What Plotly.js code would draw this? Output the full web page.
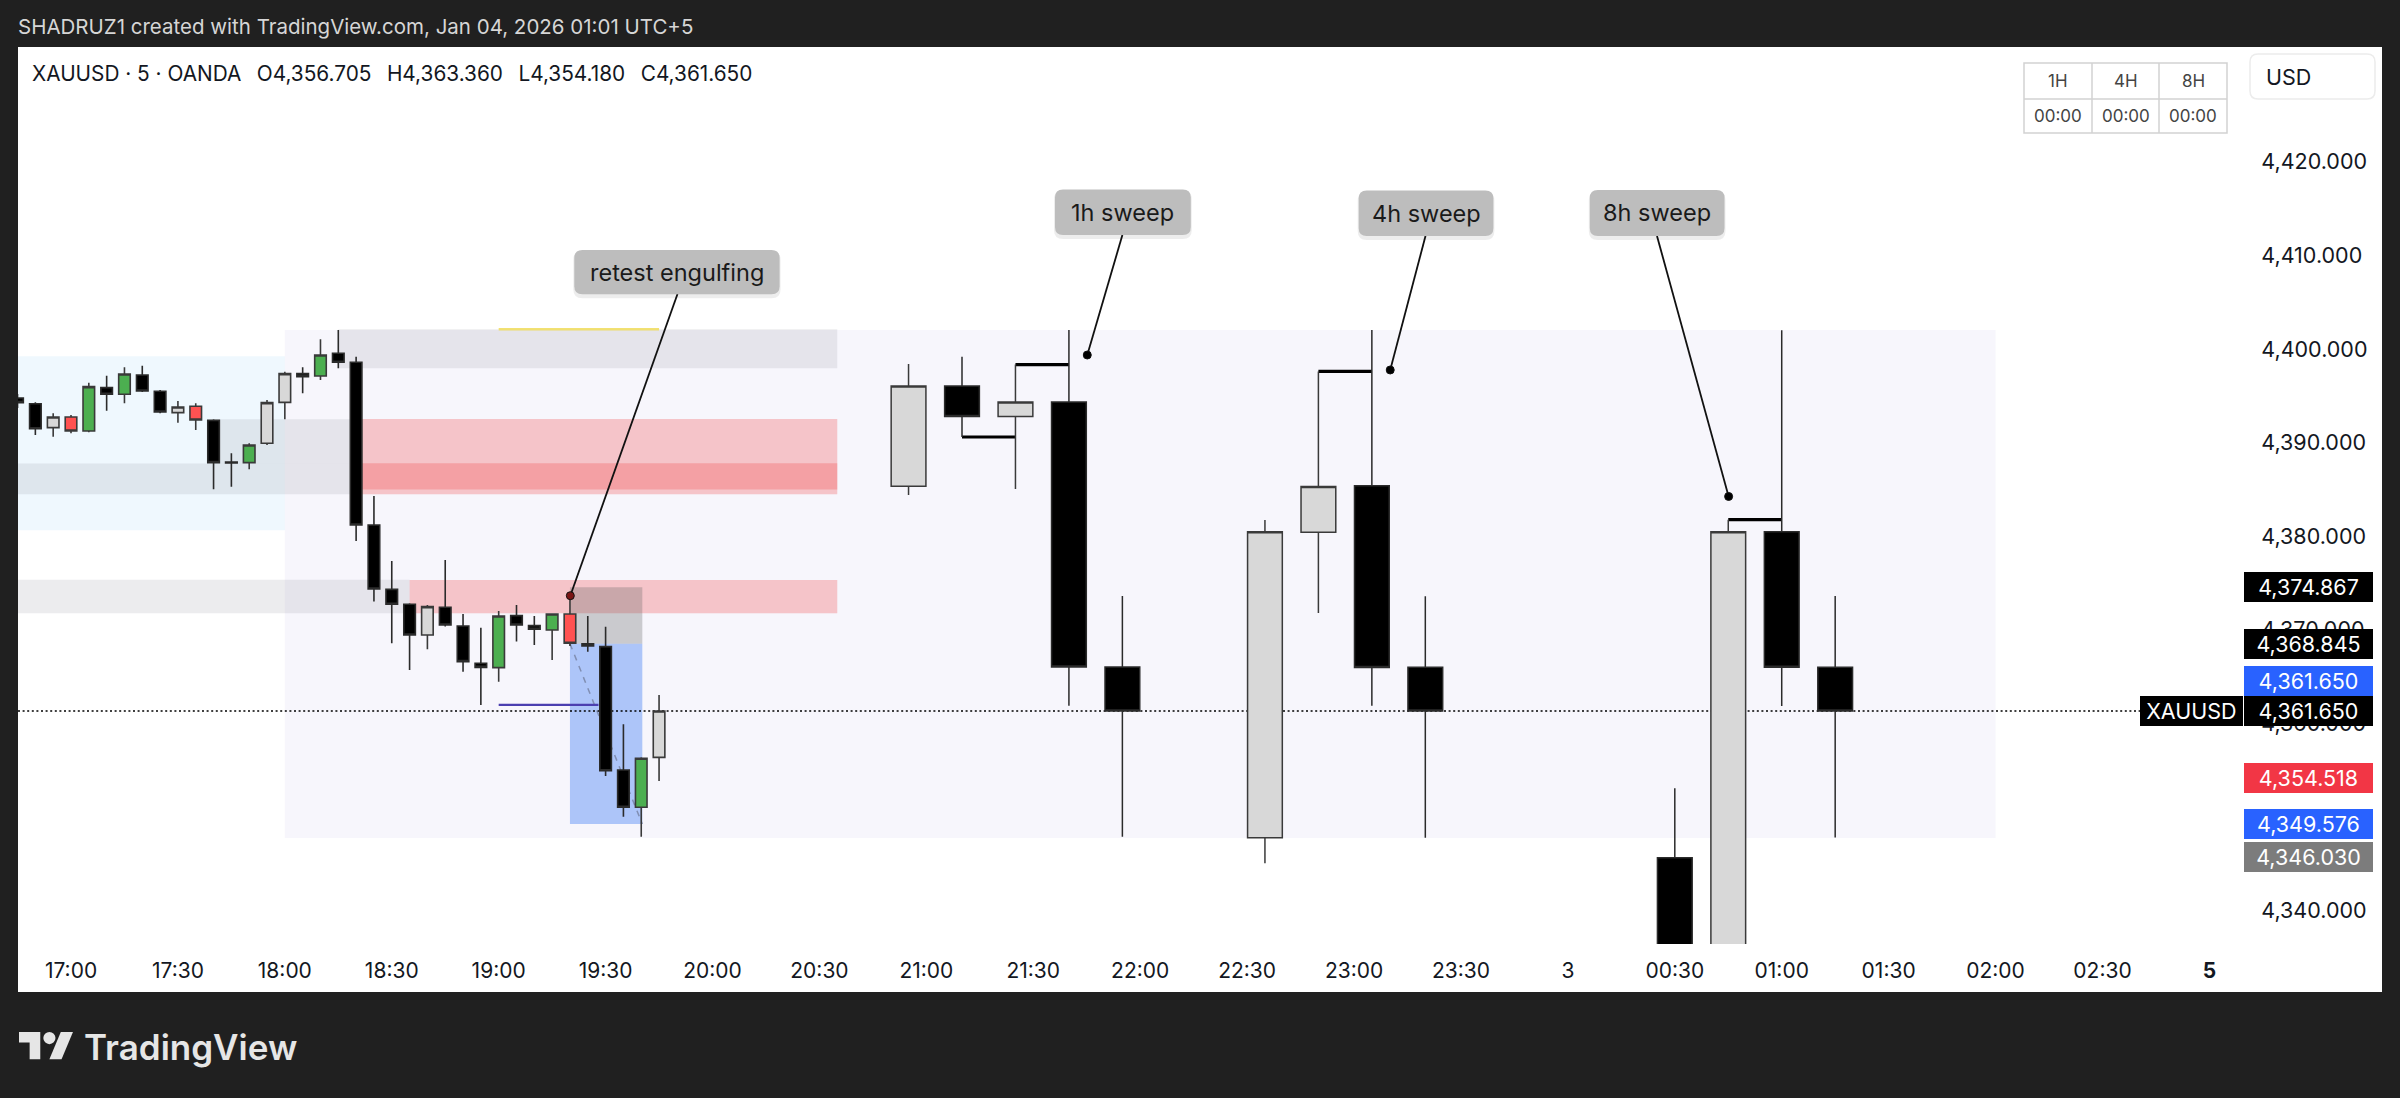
<!DOCTYPE html>
<html><head><meta charset="utf-8">
<script src="https://cdn.plot.ly/plotly-3.0.1.min.js"></script>
<style>html,body{margin:0;padding:0;background:#202020;}#chart{width:2400px;height:1098px;}</style>
</head><body><div id="chart"></div>
<script>
// ================= DATA =================
// 5-minute candles (bar index: 0 = 17:00, one unit = 5 minutes)
const m5_idx = [-3,-2,-1,0,1,2,3,4,5,6,7,8,9,10,11,12,13,14,15,16,17,18,19,20,21,22,23,24,25,26,27,28,29,30,31,32,33];
const m5_open = [4395.09,4394.48,4391.92,4393.06,4391.56,4396.19,4395.48,4397.54,4395.80,4393.52,4394.20,4392.70,4388.25,4388.18,4390.25,4394.62,4397.69,4397.44,4399.86,4398.90,4381.52,4374.65,4373.05,4369.78,4372.73,4370.74,4366.75,4366.29,4371.84,4370.77,4370.31,4372.02,4368.82,4368.53,4355.36,4351.37,4356.705];
const m5_high = [4395.52,4394.62,4393.45,4393.27,4396.72,4397.47,4398.36,4398.54,4395.94,4394.77,4394.52,4392.81,4389.18,4390.25,4394.87,4397.90,4398.36,4401.35,4402.35,4399.50,4384.62,4377.68,4373.16,4372.98,4377.79,4372.02,4370.56,4372.34,4372.98,4371.81,4372.09,4374.05,4371.80,4370.66,4360.24,4356.72,4363.36];
const m5_low = [4394.02,4391.14,4390.96,4391.31,4391.42,4393.73,4394.52,4395.72,4393.45,4392.45,4391.67,4385.33,4385.62,4387.47,4390.07,4392.81,4395.59,4397.02,4398.26,4379.82,4373.34,4368.89,4366.04,4368.25,4370.67,4365.86,4362.30,4364.79,4369.07,4368.71,4367.11,4368.60,4367.99,4354.72,4350.37,4348.22,4354.18];
const m5_close = [4394.59,4391.81,4393.06,4391.56,4396.30,4395.48,4397.65,4395.83,4393.59,4394.13,4392.74,4388.18,4388.14,4390.07,4394.59,4397.69,4397.37,4399.68,4398.90,4381.52,4374.69,4373.05,4369.78,4372.80,4370.84,4366.93,4366.32,4371.81,4370.84,4370.38,4372.02,4368.89,4368.60,4355.28,4351.37,4356.61,4361.65];
const m5_kind = ['down','down','up','downHi','upHi','down','upHi','down','down','up','downHi','down','down','upHi','up','up','down','upHi','down','down','down','down','down','up','down','down','down','upHi','down','down','upHi','downHi','down','down','down','upHi','up'];

// Higher-timeframe candles (1H, 4H, 8H groups) drawn in the future area
const htf_idx = [47,50,53,56,59,67,70,73,76,90,93,96,99];
const htf_open = [4385.65,4396.37,4393.12,4394.66,4366.36,4348.12,4380.75,4385.72,4366.32,4345.99,4331.00,4380.79,4366.32];
const htf_high = [4398.72,4399.49,4398.66,4402.35,4373.94,4382.06,4397.93,4402.35,4373.92,4353.40,4382.09,4402.32,4373.95];
const htf_low = [4384.72,4390.92,4385.37,4362.22,4348.22,4345.39,4372.12,4362.22,4348.12,4327.50,4329.00,4362.18,4348.15];
const htf_close = [4396.37,4393.12,4394.66,4366.36,4361.65,4380.81,4385.64,4366.30,4361.65,4331.00,4380.79,4366.32,4361.65];
const htf_kind = ['up','down','up','down','down','up','up','down','down','down','up','down','down'];

// Sweep levels (from bar, to bar, price)
const sweep_k0 = [50,53,70,93];
const sweep_k1 = [53,56,73,96];
const sweep_level = [4390.92,4398.66,4397.93,4382.09];

// Notes
const note_text = ['retest engulfing','1h sweep','4h sweep','8h sweep'];
const note_k = [28.02,57.03,74.03,93.02];
const note_price = [4373.97,4399.68,4398.08,4384.57];

// Zones: x from/to (bar index), price from/to, kind
const zone_k0 = [12,-10,15,8,-10,-10,16,16,19];
const zone_k1 = [108,12,43,16,16,19,43,43,43];
const zone_p0 = [4348.09,4380.97,4398.26,4388.10,4384.80,4372.09,4384.80,4385.32,4372.09];
const zone_p1 = [4402.35,4399.55,4402.42,4392.81,4388.10,4375.67,4392.84,4388.11,4375.65];
const zone_kind = ['session','range','block','block','block','block','supply','supply','supply'];

// Short position tool
const pos_k0 = 28, pos_k1 = 32.06;
const pos_entry = 4368.845, pos_stop = 4374.867, pos_target = 4349.576;

// Horizontal level lines
const level_k0 = [24,24];
const level_k1 = [29.6,33];
const level_price = [4362.30,4402.42];
const level_kind = ['liquidity','high'];

// Price scale
const last_price = 4361.65;
const price_ticks = [4340,4360,4370,4380,4390,4400,4410,4420];
const price_label_values = [4374.867,4368.845,4361.650,4361.650,4354.518,4349.576,4346.030];
const price_label_kind = ['black','black','blue','last','red','blue','gray'];

// Time axis
const time_tick_idx = [0,6,12,18,24,30,36,42,48,54,60,66,72,78,84,90,96,102,108,114,120];
const time_tick_text = ['17:00','17:30','18:00','18:30','19:00','19:30','20:00','20:30','21:00','21:30','22:00','22:30','23:00','23:30','3','00:30','01:00','01:30','02:00','02:30','5'];

// Table
const table_head = ['1H','4H','8H'];
const table_row = ['00:00','00:00','00:00'];

// ================= LAYOUT / STYLE =================
const FONT = 'Inter, "Noto Sans", sans-serif';
const TXT = '#131722';
const PLOT = {l:18, t:47, w:2222, h:897};
const XR = [-2.9742, 121.717], YR = [4336.769, 4432.577];
const kOf = px => XR[0] + (px - PLOT.l) / PLOT.w * (XR[1] - XR[0]);
const pOf = py => YR[1] - (py - PLOT.t) / PLOT.h * (YR[1] - YR[0]);
const PX = px => (px - PLOT.l) / PLOT.w;
const PY = py => (PLOT.t + PLOT.h - py) / PLOT.h;
const fmt3 = v => v.toLocaleString('en-US', {minimumFractionDigits:3, maximumFractionDigits:3});

const KIND_STYLE = {
  up: {fill:'#d8d8d8', line:'#3a3a3a'},
  down: {fill:'#000000', line:'#2b2b2b'},
  upHi: {fill:'#4caf50', line:'#3a3a3a'},
  downHi: {fill:'#ff5252', line:'#3a3a3a'}
};
const ZONE_FILL = {
  session: 'rgba(120,100,200,0.06)',
  range: 'rgba(33,150,243,0.07)',
  block: 'rgba(128,128,140,0.15)',
  supply: 'rgba(240,70,70,0.28)'
};
const LEVEL_STYLE = {
  liquidity: {color:'#4b3fb0', width:2.2},
  high: {color:'rgba(240,220,90,0.85)', width:2.5}
};
const LABEL_BG = {black:'#000000', last:'#000000', blue:'#2962ff', red:'#f23645', gray:'#7c7c7c'};

function candleTraces(idx, o, h, l, c, kind, xaxis, lw) {
  const out = [];
  Object.keys(KIND_STYLE).forEach(kd => {
    const sel = idx.map((_, i) => i).filter(i => kind[i] === kd);
    if (!sel.length) return;
    const st = KIND_STYLE[kd];
    out.push({
      type:'candlestick', xaxis:xaxis, yaxis:'y',
      x: sel.map(i => idx[i]), open: sel.map(i => o[i]), high: sel.map(i => h[i]),
      low: sel.map(i => l[i]), close: sel.map(i => c[i]),
      increasing:{fillcolor:st.fill, line:{color:st.line, width:lw}},
      decreasing:{fillcolor:st.fill, line:{color:st.line, width:lw}},
      whiskerwidth:0, hoverinfo:'skip', showlegend:false
    });
  });
  return out;
}

const traces = [];
candleTraces(m5_idx, m5_open, m5_high, m5_low, m5_close, m5_kind, 'x', 1.6).forEach(t => traces.push(t));
candleTraces(htf_idx, htf_open, htf_high, htf_low, htf_close, htf_kind, 'x2', 1.5).forEach(t => traces.push(t));

// sweep lines
const sx = [], sy = [];
sweep_k0.forEach((k, i) => { sx.push(k, sweep_k1[i], null); sy.push(sweep_level[i], sweep_level[i], null); });
traces.push({type:'scatter', mode:'lines', x:sx, y:sy, line:{color:'#000', width:3.2}, hoverinfo:'skip', showlegend:false});

// note boxes (pixel geometry of the callouts)
const NOTE_BOX = [
  {x0:574.3, x1:779.6, y0:250, y1:294.3, tx:677.5, ty:294},
  {x0:1055, x1:1190.8, y0:189.6, y1:235, tx:1122.4, ty:235},
  {x0:1358.7, x1:1493.4, y0:190.4, y1:236, tx:1425.5, ty:236},
  {x0:1589.8, x1:1724.5, y0:190, y1:236, tx:1657, ty:236}
];
const NOTE_DOT = ['#7a1414','#000','#000','#000'];

// leader lines
const lx = [], ly = [];
note_k.forEach((k, i) => { lx.push(kOf(NOTE_BOX[i].tx), k, null); ly.push(pOf(NOTE_BOX[i].ty), note_price[i], null); });
traces.push({type:'scatter', mode:'lines', x:lx, y:ly, line:{color:'#111', width:1.8}, hoverinfo:'skip', showlegend:false});
traces.push({type:'scatter', mode:'markers', x:note_k, y:note_price,
  marker:{size:8, color:NOTE_DOT, line:{color:'#111', width:1}}, hoverinfo:'skip', showlegend:false});

// ---- shapes ----
const shapes = [];
shapes.push({type:'rect', xref:'paper', yref:'paper', x0:PX(18), x1:PX(2382), y0:PY(992), y1:PY(47),
  fillcolor:'#ffffff', line:{width:0}, layer:'below'});
zone_k0.forEach((k, i) => shapes.push({type:'rect', xref:'x', yref:'y', x0:k, x1:zone_k1[i], y0:zone_p0[i], y1:zone_p1[i],
  fillcolor:ZONE_FILL[zone_kind[i]], line:{width:0}, layer:'below'}));
shapes.push({type:'rect', xref:'x', yref:'y', x0:pos_k0, x1:pos_k1, y0:pos_entry, y1:pos_stop,
  fillcolor:'rgba(100,100,100,0.30)', line:{width:0}, layer:'below'});
shapes.push({type:'rect', xref:'x', yref:'y', x0:pos_k0, x1:pos_k1, y0:pos_target, y1:pos_entry,
  fillcolor:'rgba(41,110,245,0.36)', line:{width:0}, layer:'below'});
shapes.push({type:'line', xref:'x', yref:'y', x0:pos_k0, x1:pos_k1, y0:pos_entry, y1:pos_target,
  line:{color:'rgba(110,120,150,0.7)', width:1.5, dash:'6px,6px'}, layer:'below'});
level_k0.forEach((k, i) => shapes.push({type:'line', xref:'x', yref:'y', x0:k, x1:level_k1[i], y0:level_price[i], y1:level_price[i],
  line:{color:LEVEL_STYLE[level_kind[i]].color, width:LEVEL_STYLE[level_kind[i]].width}, layer:'below'}));
shapes.push({type:'line', xref:'x', yref:'y', x0:XR[0], x1:kOf(2140), y0:last_price, y1:last_price,
  line:{color:'#000', width:1.5, dash:'2px,2.6px'}, layer:'below'});

function rr(x0, y0, x1, y1, r) {
  const X = PX, Y = PY;
  return `M${X(x0+r)},${Y(y0)} L${X(x1-r)},${Y(y0)} Q${X(x1)},${Y(y0)} ${X(x1)},${Y(y0+r)} L${X(x1)},${Y(y1-r)} Q${X(x1)},${Y(y1)} ${X(x1-r)},${Y(y1)} L${X(x0+r)},${Y(y1)} Q${X(x0)},${Y(y1)} ${X(x0)},${Y(y1-r)} L${X(x0)},${Y(y0+r)} Q${X(x0)},${Y(y0)} ${X(x0+r)},${Y(y0)} Z`;
}
NOTE_BOX.forEach(b => {
  shapes.push({type:'path', xref:'paper', yref:'paper', path:rr(b.x0-1, b.y0+1, b.x1+1, b.y1+4, 9),
    fillcolor:'rgba(0,0,0,0.07)', line:{width:0}, layer:'above'});
  shapes.push({type:'path', xref:'paper', yref:'paper', path:rr(b.x0, b.y0, b.x1, b.y1, 8),
    fillcolor:'#bdbdbd', line:{width:0}, layer:'above'});
});
const TB = {x0:2024, x1:2227, y0:63, ym:99, y1:133, c1:2092, c2:2159};
shapes.push({type:'rect', xref:'paper', yref:'paper', x0:PX(TB.x0), x1:PX(TB.x1), y0:PY(TB.y1), y1:PY(TB.y0),
  fillcolor:'#ffffff', line:{color:'#d2d2d2', width:1.5}, layer:'above'});
[TB.c1, TB.c2].forEach(cx => shapes.push({type:'line', xref:'paper', yref:'paper', x0:PX(cx), x1:PX(cx), y0:PY(TB.y1), y1:PY(TB.y0),
  line:{color:'#d2d2d2', width:1.5}, layer:'above'}));
shapes.push({type:'line', xref:'paper', yref:'paper', x0:PX(TB.x0), x1:PX(TB.x1), y0:PY(TB.ym), y1:PY(TB.ym),
  line:{color:'#d2d2d2', width:1.5}, layer:'above'});
shapes.push({type:'path', xref:'paper', yref:'paper', path:rr(2250, 54, 2375, 99, 8),
  fillcolor:'#ffffff', line:{color:'#ececec', width:1.5}, layer:'above'});
const LG = {x:19, y:1025.9, s:1.52};
const lp = (X, Y) => `${PX(LG.x + LG.s*X)},${PY(LG.y + LG.s*Y)}`;
shapes.push({type:'path', xref:'paper', yref:'paper', path:`M${lp(14,22)} L${lp(7,22)} L${lp(7,11)} L${lp(0,11)} L${lp(0,4)} L${lp(14,4)} Z`,
  fillcolor:'#e6e6e6', line:{width:0}, layer:'above'});
shapes.push({type:'path', xref:'paper', yref:'paper', path:`M${lp(28,22)} L${lp(20,22)} L${lp(27.5,4)} L${lp(35.5,4)} Z`,
  fillcolor:'#e6e6e6', line:{width:0}, layer:'above'});
shapes.push({type:'circle', xref:'paper', yref:'paper', x0:PX(LG.x+LG.s*16), x1:PX(LG.x+LG.s*24), y0:PY(LG.y+LG.s*12), y1:PY(LG.y+LG.s*4),
  fillcolor:'#e6e6e6', line:{width:0}, layer:'above'});

// ---- annotations ----
const ann = [];
const last = m5_idx.length - 1;
const S = '\u00a0\u00a0\u2009';
ann.push({xref:'paper', yref:'paper', x:0, y:1, xanchor:'left', yanchor:'middle', xshift:-2, yshift:21, showarrow:false,
  text:'SHADRUZ1 created with TradingView.com, Jan 04, 2026 01:01 UTC+5', font:{family:FONT, size:20.5, color:'#d6d6d6'}});
ann.push({xref:'paper', yref:'paper', x:0, y:1, xanchor:'left', yanchor:'middle', xshift:12, yshift:-26, showarrow:false,
  text:`XAUUSD · 5 · OANDA${S}O${fmt3(m5_open[last])}${S}H${fmt3(m5_high[last])}${S}L${fmt3(m5_low[last])}${S}C${fmt3(m5_close[last])}`,
  font:{family:FONT, size:20.8, color:TXT}});
NOTE_BOX.forEach((b, i) => ann.push({xref:'paper', yref:'paper', x:PX((b.x0+b.x1)/2), y:PY((b.y0+b.y1)/2),
  xanchor:'center', yanchor:'middle', showarrow:false, text:note_text[i], font:{family:FONT, size:23.5, color:'#1a1a1a'}}));
const colC = [(TB.x0+TB.c1)/2, (TB.c1+TB.c2)/2, (TB.c2+TB.x1)/2];
table_head.forEach((t, i) => {
  ann.push({xref:'paper', yref:'paper', x:PX(colC[i]), y:PY((TB.y0+TB.ym)/2), xanchor:'center', yanchor:'middle', showarrow:false,
    text:t, font:{family:FONT, size:17, color:'#444'}});
  ann.push({xref:'paper', yref:'paper', x:PX(colC[i]), y:PY((TB.ym+TB.y1)/2), xanchor:'center', yanchor:'middle', showarrow:false,
    text:table_row[i], font:{family:FONT, size:17, color:'#444'}});
});
ann.push({xref:'paper', yref:'paper', x:PX(2264), y:PY(77), xanchor:'left', yanchor:'middle', showarrow:false,
  text:'USD', font:{family:FONT, size:21.5, color:TXT}});
price_label_values.forEach((v, i) => {
  const kd = price_label_kind[i];
  ann.push({xref:'paper', yref:'y', x:1, y:v, xanchor:'left', yanchor:'middle', xshift:4,
    yshift: (kd === 'blue' && Math.abs(v - last_price) < 0.01) ? 30 : 0,
    showarrow:false, text:fmt3(v), bgcolor:LABEL_BG[kd], borderpad:0, borderwidth:0, width:129, height:30,
    align:'center', valign:'middle', font:{family:FONT, size:21.5, color:'#ffffff'}});
});
ann.push({xref:'paper', yref:'y', x:1, y:last_price, xanchor:'right', yanchor:'middle', xshift:2.7,
  showarrow:false, text:'XAUUSD', bgcolor:'#000000', borderpad:0, borderwidth:0, width:102.7, height:30,
  align:'center', valign:'middle', font:{family:FONT, size:21.5, color:'#ffffff'}});
ann.push({xref:'paper', yref:'paper', x:PX(82), y:PY(1047), xanchor:'left', yanchor:'middle', showarrow:false,
  text:'TradingView', font:{family:FONT, size:35, color:'#e6e6e6', weight:600}});

const layout = {
  width:2400, height:1098,
  margin:{l:PLOT.l, r:2400-PLOT.l-PLOT.w, t:PLOT.t, b:1098-PLOT.t-PLOT.h, pad:0},
  paper_bgcolor:'#202020', plot_bgcolor:'#ffffff',
  font:{family:FONT, color:TXT},
  showlegend:false, boxgap:0.35, boxgroupgap:0, boxmode:'overlay',
  xaxis:{range:XR, type:'linear', tickmode:'array', tickvals:time_tick_idx,
    ticktext:time_tick_text.map(t => t === '5' ? '<b>5</b>' : t),
    ticks:'outside', ticklen:8, tickcolor:'rgba(0,0,0,0)', tickfont:{family:FONT, size:21, color:TXT},
    showgrid:false, zeroline:false, showline:false, fixedrange:true, rangeslider:{visible:false}},
  xaxis2:{range:XR, type:'linear', overlaying:'x', anchor:'y', visible:false, showgrid:false, zeroline:false,
    fixedrange:true, rangeslider:{visible:false}},
  yaxis:{range:YR, side:'right', tickmode:'array', tickvals:price_ticks, ticktext:price_ticks.map(fmt3),
    ticks:'outside', ticklen:16, tickcolor:'rgba(0,0,0,0)', ticklabelshift:-3, tickfont:{family:FONT, size:21.5, color:TXT},
    showgrid:false, zeroline:false, showline:false, fixedrange:true},
  shapes:shapes, annotations:ann
};
Plotly.newPlot('chart', traces, layout, {staticPlot:true, displayModeBar:false});
</script>
</body></html>
